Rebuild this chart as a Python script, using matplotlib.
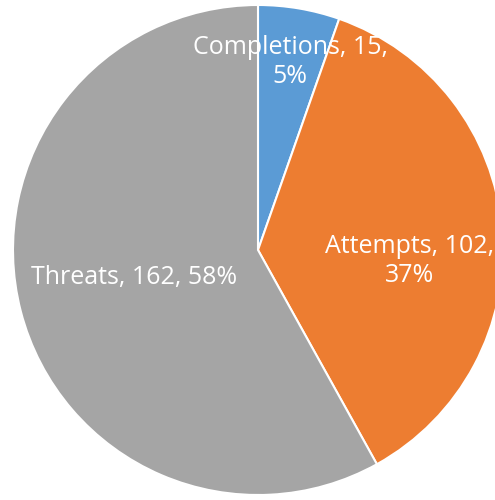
import numpy as np
import matplotlib
matplotlib.use("Agg")
import matplotlib.pyplot as plt

categories = ["Completions", "Attempts", "Threats"]
values = [15, 102, 162]
percents = ["5%", "37%", "58%"]
labels = ["Completions, 15,\n5%", "Attempts, 102,\n37%", "Threats, 162, 58%"]

COLORS = ["#5B9BD5", "#ED7D31", "#A5A5A5"]
# label radius (fraction of pie radius) and angle nudge (degrees)
LABEL_R = [0.78, 0.62, 0.52]
LABEL_DA = [0.0, -9.0, -2.0]

plt.rcParams["font.family"] = ["Open Sans", "DejaVu Sans"]

fig = plt.figure(figsize=(4.95, 5.0), dpi=100)
R = 245
cx, cy = 258, 250
ax = fig.add_axes([(cx - R) / 495, (500 - cy - R) / 500, 2 * R / 495, 2 * R / 500])

wedges, _ = ax.pie(
    values,
    colors=COLORS,
    startangle=90,
    counterclock=False,
    radius=1.0,
    wedgeprops=dict(edgecolor="white", linewidth=1.5),
)

for w, text, r, da in zip(wedges, labels, LABEL_R, LABEL_DA):
    mid = np.deg2rad((w.theta1 + w.theta2) / 2 + da)
    ax.text(r * np.cos(mid), r * np.sin(mid), text, ha="center", va="center",
            color="white", fontsize=18, linespacing=1.2)

ax.set_xlim(-1, 1)
ax.set_ylim(-1, 1)
ax.set_aspect("auto")
ax.axis("off")

fig.savefig("out.png", dpi=100)
